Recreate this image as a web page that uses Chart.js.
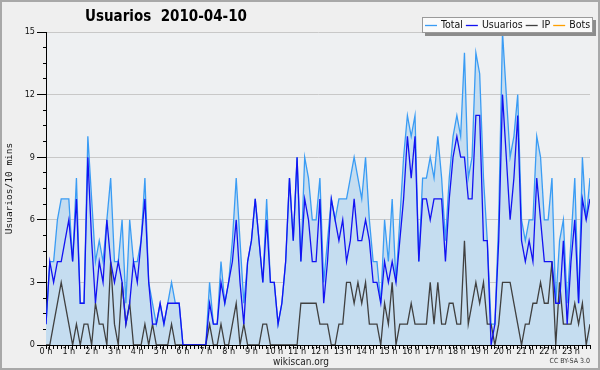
<!DOCTYPE html>
<html>
<head>
<meta charset="utf-8">
<script src="https://cdn.jsdelivr.net/npm/chart.js@4/dist/chart.umd.min.js"></script>
<style>
    body { margin: 0; background: #efefef; }
    canvas { display: block; }
</style>
</head>
<body>
<canvas id="chart" width="600" height="370"></canvas>
<script>
// Tick labels for every hour (one point = 10 minutes)
const hours = ['0 h', '1 h', '2 h', '3 h', '4 h', '5 h', '6 h', '7 h', '8 h', '9 h', '10 h', '11 h',
               '12 h', '13 h', '14 h', '15 h', '16 h', '17 h', '18 h', '19 h', '20 h', '21 h', '22 h', '23 h'];

const seriesNames = ['Total', 'Usuarios', 'IP', 'Bots'];

// Users per 10 minutes, 2010-04-10
const total = [
    1, 4, 4, 6, 7, 7, 7, 4, 8, 2, 2, 10,
    7, 4, 5, 4, 6, 8, 4, 4, 6, 2, 6, 4,
    4, 5, 8, 3, 2, 1, 2, 1, 2, 3, 2, 2,
    0, 0, 0, 0, 0, 0, 0, 3, 1, 1, 4, 2,
    3, 5, 8, 5, 2, 4, 5, 7, 5, 3, 7, 3,
    3, 1, 2, 4, 8, 5, 9, 4, 9, 8, 6, 6,
    8, 3, 5, 7, 6, 7, 7, 7, 8, 9, 8, 7,
    9, 6, 4, 4, 2, 6, 4, 7, 3, 6, 9, 11,
    10, 11, 4, 8, 8, 9, 8, 10, 8, 5, 8, 10,
    11, 10, 14, 8, 9, 14, 13, 8, 5, 1, 1, 6,
    15, 12, 9, 10, 12, 6, 5, 6, 6, 10, 9, 6,
    6, 8, 2, 5, 6, 2, 5, 8, 2, 9, 6, 8
];

const usuarios = [
    1, 4, 3, 4, 4, 5, 6, 4, 7, 2, 2, 9,
    5, 2, 4, 3, 6, 4, 3, 4, 3, 1, 2, 4,
    3, 5, 7, 3, 1, 1, 2, 1, 2, 2, 2, 2,
    0, 0, 0, 0, 0, 0, 0, 2, 1, 1, 3, 2,
    3, 4, 6, 3, 1, 4, 5, 7, 5, 3, 6, 3,
    3, 1, 2, 4, 8, 5, 9, 4, 7, 6, 4, 4,
    7, 2, 4, 7, 6, 5, 6, 4, 5, 7, 5, 5,
    6, 5, 3, 3, 2, 4, 3, 4, 3, 5, 7, 10,
    8, 10, 4, 7, 7, 6, 7, 7, 7, 4, 7, 9,
    10, 9, 9, 7, 7, 11, 11, 5, 5, 0, 1, 5,
    12, 9, 6, 8, 11, 5, 4, 5, 4, 8, 6, 4,
    4, 4, 2, 2, 5, 1, 4, 6, 2, 7, 6, 7
];

const ip = [
    0, 0, 1, 2, 3, 2, 1, 0, 1, 0, 1, 1,
    0, 2, 1, 1, 0, 4, 1, 0, 3, 1, 2, 0,
    0, 0, 1, 0, 1, 0, 0, 0, 0, 1, 0, 0,
    0, 0, 0, 0, 0, 0, 0, 1, 0, 0, 1, 0,
    0, 1, 2, 0, 1, 0, 0, 0, 0, 1, 1, 0,
    0, 0, 0, 0, 0, 0, 0, 2, 2, 2, 2, 2,
    1, 1, 1, 0, 0, 1, 1, 3, 3, 2, 3, 2,
    3, 1, 1, 1, 0, 2, 1, 3, 0, 1, 1, 1,
    2, 1, 1, 1, 1, 3, 1, 3, 1, 1, 2, 2,
    1, 1, 5, 1, 2, 3, 2, 3, 1, 1, 0, 1,
    3, 3, 3, 2, 1, 0, 1, 1, 2, 2, 3, 2,
    2, 4, 0, 3, 1, 1, 1, 2, 1, 2, 0, 1
];

// No bot activity shows up in the picture
const bots = [];

const colors = ['#3a9cf4', '#1212f2', '#404040', '#ffa000'];

function points(values)
{
    return values.map((v, i) => ({ x: i, y: v }));
}

// Page background, plot background and frame
const backgroundPlugin =
{
    id: 'background',
    beforeDraw(chart)
    {
        const ctx = chart.ctx;
        const a = chart.chartArea;

        ctx.save();
        ctx.fillStyle = '#efefef';
        ctx.fillRect(0, 0, chart.width, chart.height);
        ctx.fillStyle = '#eef0f2';
        ctx.fillRect(a.left, a.top, a.right - a.left, a.bottom - a.top);
        ctx.strokeStyle = '#a8a8a8';
        ctx.lineWidth = 2;
        ctx.strokeRect(1, 1, chart.width - 2, chart.height - 2);
        ctx.restore();
    }
};

// Title, boxed legend and footer texts
const decorPlugin =
{
    id: 'decor',
    afterDraw(chart)
    {
        const ctx = chart.ctx;
        ctx.save();

        // Title
        ctx.fillStyle = '#000';
        ctx.font = 'bold 15px "DejaVu Sans Condensed", "DejaVu Sans", sans-serif';
        ctx.textBaseline = 'middle';
        ctx.textAlign = 'left';
        ctx.fillText('Usuarios  2010-04-10', 85, 17);

        // Legend box with shadow
        const bx = 422, by = 17, bw = 171, bh = 16;
        ctx.fillStyle = '#8c8c8c';
        ctx.fillRect(bx + 3, by + 3, bw, bh);
        ctx.fillStyle = '#fafafa';
        ctx.fillRect(bx, by, bw, bh);
        ctx.strokeStyle = '#9a9a9a';
        ctx.lineWidth = 1;
        ctx.strokeRect(bx + 0.5, by + 0.5, bw - 1, bh - 1);

        ctx.font = '10.5px "DejaVu Sans Condensed", "DejaVu Sans", sans-serif';
        let x = bx + 3;
        const ly = by + bh / 2 + 0.5;
        chart.data.datasets.forEach((ds, i) =>
        {
            ctx.strokeStyle = colors[i];
            ctx.lineWidth = 1.3;
            ctx.beginPath();
            ctx.moveTo(x, ly);
            ctx.lineTo(x + 12, ly);
            ctx.stroke();

            ctx.fillStyle = '#111';
            ctx.fillText(ds.label, x + 16, ly);
            x += 16 + ctx.measureText(ds.label).width + 3;
        });

        // Footer
        ctx.fillStyle = '#222';
        ctx.textAlign = 'center';
        ctx.font = '10px "DejaVu Sans Condensed", "DejaVu Sans", sans-serif';
        ctx.fillText('wikiscan.org', 301, 362);

        ctx.textAlign = 'right';
        ctx.font = '7px "DejaVu Sans Condensed", "DejaVu Sans", sans-serif';
        ctx.fillStyle = '#333';
        ctx.fillText('CC BY-SA 3.0', 590, 361);

        ctx.restore();
    }
};

const axisFont = { family: '"DejaVu Sans Condensed", "DejaVu Sans", sans-serif', size: 9 };

new Chart(document.getElementById('chart'),
{
    type: 'line',

    data:
    {
        datasets:
        [
            {
                label: seriesNames[0],
                data: points(total),
                borderColor: colors[0],
                backgroundColor: '#c5ddf0',
                fill: 'origin',
                order: 3
            },
            {
                label: seriesNames[1],
                data: points(usuarios),
                borderColor: colors[1],
                fill: false,
                order: 1
            },
            {
                label: seriesNames[2],
                data: points(ip),
                borderColor: colors[2],
                fill: false,
                order: 2
            },
            {
                label: seriesNames[3],
                data: points(bots),
                borderColor: colors[3],
                fill: false,
                order: 4
            }
        ]
    },

    options:
    {
        responsive: false,
        animation: false,
        devicePixelRatio: 1,

        layout:
        {
            padding: { top: 32, right: 10, left: 0, bottom: 0 }
        },

        elements:
        {
            point: { radius: 0 },
            line: { borderWidth: 1.3, tension: 0 }
        },

        plugins:
        {
            legend: { display: false },
            title: { display: false },
            tooltip: { enabled: false }
        },

        scales:
        {
            x:
            {
                type: 'linear',
                min: 0,
                max: 143,
                afterFit: (scale) => { scale.height = 25; },
                border: { color: '#000', width: 1 },
                grid:
                {
                    drawOnChartArea: false,
                    tickColor: '#000',
                    tickLength: 4
                },
                ticks:
                {
                    stepSize: 1,
                    autoSkip: false,
                    maxTicksLimit: 200,
                    maxRotation: 0,
                    minRotation: 0,
                    padding: -3,
                    color: '#111',
                    font: axisFont,
                    callback: (v) => (v % 6 === 0 ? hours[v / 6] : '')
                }
            },

            y:
            {
                type: 'linear',
                position: 'left',
                weight: 1,
                min: 0,
                max: 15,
                afterFit: (scale) => { scale.width = 46; },
                border: { color: '#000', width: 1 },
                grid:
                {
                    color: (ctx) => (ctx.tick && ctx.tick.value > 0 ? '#c8c8c8' : 'rgba(0,0,0,0)'),
                    tickColor: '#000',
                    tickLength: 9
                },
                ticks:
                {
                    stepSize: 3,
                    padding: 2,
                    color: '#111',
                    font: axisFont
                },
                title:
                {
                    display: true,
                    text: 'Usuarios/10 mins',
                    color: '#111',
                    padding: { top: 4, bottom: 4 },
                    font: { family: '"DejaVu Sans Mono", monospace', size: 9.5 }
                }
            },

            // Short ticks every quarter of a gridline step
            yMinor:
            {
                type: 'linear',
                position: 'left',
                weight: 0,
                min: 0,
                max: 15,
                afterFit: (scale) => { scale.width = 0; },
                border: { display: false },
                grid:
                {
                    drawOnChartArea: false,
                    tickColor: '#000',
                    tickLength: 3
                },
                ticks:
                {
                    stepSize: 0.75,
                    display: false
                }
            }
        }
    },

    plugins: [backgroundPlugin, decorPlugin]
});
</script>
</body>
</html>
